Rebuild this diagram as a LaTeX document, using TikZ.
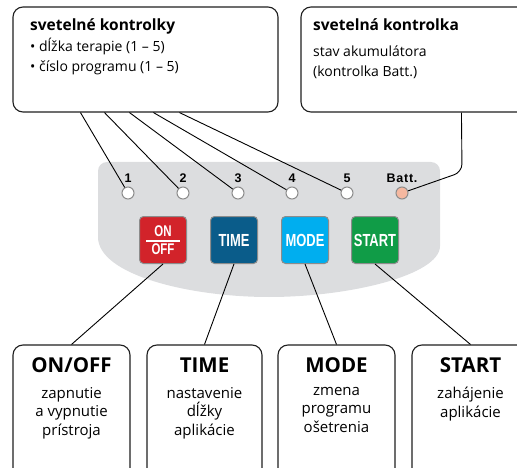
\documentclass[tikz,border=0pt]{standalone}
\usepackage{fontspec}
\setmainfont{Open Sans}
\newfontfamily\keyfont[FakeStretch=0.74]{Liberation Sans}
\newfontfamily\ledfont[LetterSpace=6]{Liberation Sans}
\usetikzlibrary{positioning, calc}

\definecolor{panelgray}{HTML}{DCDDDF}
\definecolor{keyedge}{HTML}{8C8C8C}
\definecolor{onred}{HTML}{D2232A}
\definecolor{timeblue}{HTML}{0A5C8A}
\definecolor{modecyan}{HTML}{00AEEF}
\definecolor{startgreen}{HTML}{109C47}
\definecolor{battpink}{HTML}{F5B8A0}

\tikzset{
  infobox/.style={draw=black!88, line width=1.1pt, rounded corners=10pt, fill=white, inner sep=0pt},
  boxhead/.style={font=\bfseries\fontsize{15.5}{15.5}\selectfont, inner sep=0pt},
  boxline/.style={font=\fontsize{14}{14}\selectfont, inner sep=0pt},
  bighead/.style={font=\bfseries\fontsize{20.5}{20.5}\selectfont, inner sep=0pt},
  bigtext/.style={font=\fontsize{15}{18.5}\selectfont, align=center, inner sep=0pt},
  led/.style={circle, draw=keyedge, line width=1pt, fill=white, minimum size=12pt, inner sep=0pt},
  ledlabel/.style={font=\ledfont\bfseries\fontsize{12.5}{12.5}\selectfont, inner sep=0pt},
  key/.style={draw=keyedge, line width=1pt, rounded corners=4pt, minimum size=47pt, inner sep=0pt,
    text=white, font=\keyfont\bfseries\fontsize{17.5}{17.5}\selectfont},
  link/.style={line width=0.9pt}
}

\begin{document}
\begin{tikzpicture}[x=1pt, y=-1pt]
    \useasboundingbox (0,0) rectangle (517,468);
    \clip (0,0) rectangle (517,468);

    % panel
    \fill[panelgray, rounded corners=9pt] (98,237) -- (98,162) -- (440,162) -- (440,237)
        [sharp corners] .. controls (440,275) and (350,297) .. (269,297)
        .. controls (190,297) and (98,275) .. (98,237);

    % info boxes on top
    \node[infobox, minimum width=265pt, minimum height=105pt] (ctl) at (145.5,59.5) {};
    \node[boxhead, anchor=base west] (ctlhead) at (30,31) {svetelné kontrolky};
    \node[boxline, anchor=base west] (ctlline1) at (30,52) {• dĺžka terapie (1 – 5)};
    \node[boxline, anchor=base west] (ctlline2) at (30,72) {• číslo programu (1 – 5)};

    \node[infobox, minimum width=229pt, minimum height=105pt] (bat) at (415.5,59.5) {};
    \node[boxhead, anchor=base west] (bathead) at (313,31) {svetelná kontrolka};
    \node[boxline, anchor=base west] (batline1) at (313,57) {stav akumulátora};
    \node[boxline, anchor=base west] (batline2) at (313,77) {(kontrolka Batt.)};

    % leds
    \foreach \i/\x in {1/128, 2/183, 3/238, 4/292, 5/347} {
        \node[led] (led\i) at (\x,193) {};
        \node[ledlabel] (num\i) at (\x,178) {\i};
    }
    \node[led, fill=battpink] (ledb) at (402,193) {};
    \node[ledlabel] (numb) at (402,178) {Batt.};

    \foreach \i/\s in {1/68, 2/92, 3/117, 4/141, 5/167}
        \draw[link] ([xshift=\s pt]ctl.south west) -- (led\i);
    \draw[link, rounded corners=8pt] ([xshift=161pt]bat.south west) -- (462,172) -- (ledb);

    % keys
    \node[key, fill=onred, font=\keyfont\bfseries\fontsize{15.5}{18}\selectfont, align=center] (onoff) at (163,240) {ON\\OFF};
    \draw[white, line width=1.5pt] ($(onoff.center)+(-17,1)$) -- ($(onoff.center)+(17,1)$);
    \node[key, fill=timeblue] (time) at (234,240) {TIME};
    \node[key, fill=modecyan] (mode) at (305,240) {MODE};
    \node[key, fill=startgreen] (start) at (375,240) {START};

    % boxes below
    \node[infobox, minimum width=117pt, minimum height=150pt] (onoffbox) at (71.5,420) {};
    \node[infobox, minimum width=115pt, minimum height=150pt] (timebox) at (204.5,420) {};
    \node[infobox, minimum width=117pt, minimum height=150pt] (modebox) at (336.5,420) {};
    \node[infobox, minimum width=117pt, minimum height=150pt] (startbox) at (470.5,420) {};

    \node[bighead, anchor=base] (onoffhead) at (71.5,372) {ON/OFF};
    \node[bighead, anchor=base] (timehead) at (204.5,372) {TIME};
    \node[bighead, anchor=base] (modehead) at (336.5,372) {MODE};
    \node[bighead, anchor=base] (starthead) at (470.5,372) {START};

    \node[bigtext, anchor=north] (onofftext) at (71.5,387) {zapnutie\\a vypnutie\\prístroja};
    \node[bigtext, anchor=north] (timetext) at (204.5,387) {nastavenie\\dĺžky\\aplikácie};
    \node[bigtext, anchor=north] (modetext) at (336.5,387) {zmena\\programu\\ošetrenia};
    \node[bigtext, anchor=north] (starttext) at (470.5,387) {zahájenie\\aplikácie};

    \draw[link] (onoff.south) -- (onoffbox.north);
    \draw[link] (time.south) -- (timebox.north);
    \draw[link] (mode.south) -- (modebox.north);
    \draw[link] (start.south) -- (startbox.north);
\end{tikzpicture}
\end{document}
